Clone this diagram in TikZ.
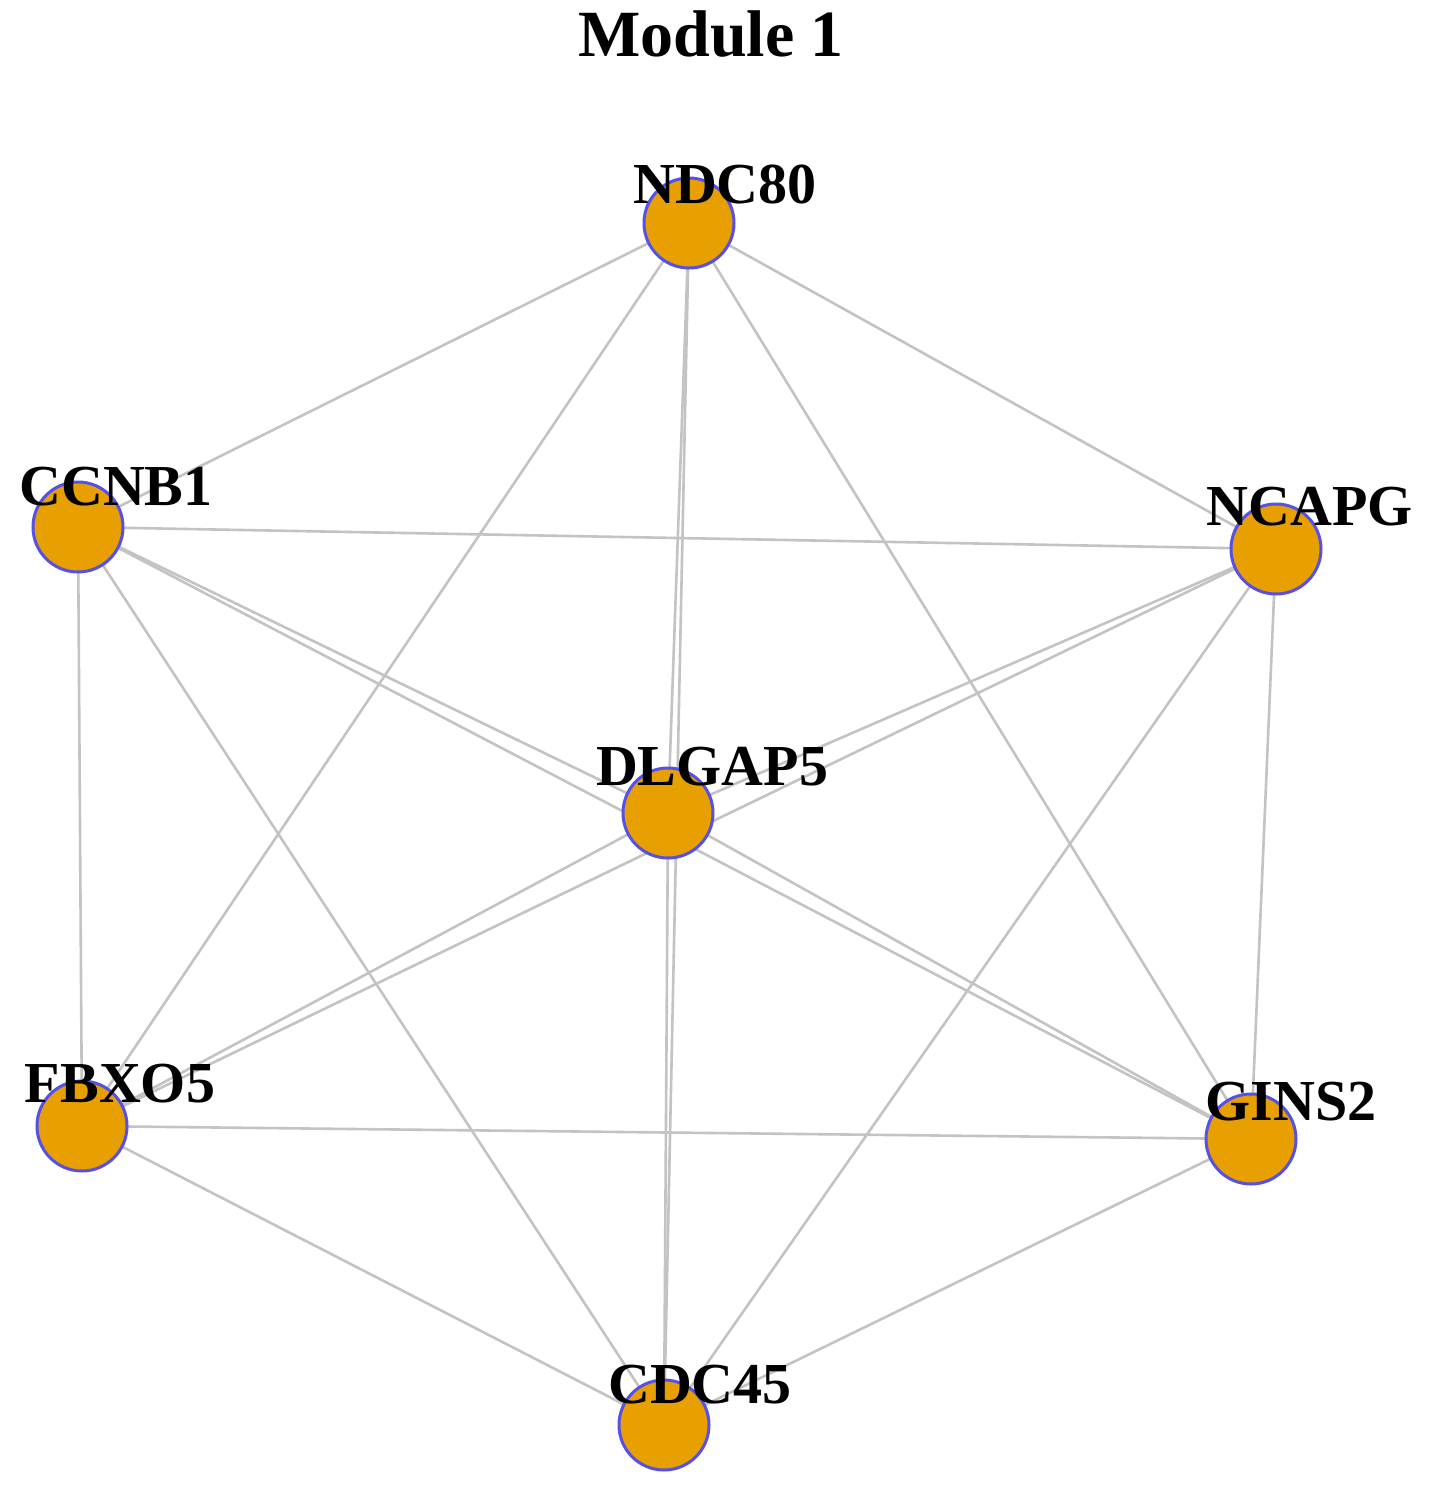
\documentclass[tikz,border=0pt]{standalone}
\usepackage{fontspec}
\setmainfont{Liberation Serif}
\definecolor{nodefill}{RGB}{232,160,0}
\definecolor{nodeborder}{RGB}{85,80,230}
\definecolor{edgecol}{RGB}{195,195,195}
\begin{document}
\begin{tikzpicture}[x=1pt,y=-1pt,
  gene/.style={circle,fill=nodefill,draw=nodeborder,line width=3pt,minimum size=90pt,inner sep=0pt},
  glabel/.style={font=\fontsize{58}{58}\selectfont\bfseries,inner sep=0pt,anchor=base},
  edge/.style={draw=edgecol,line width=2.6pt}]
\useasboundingbox (0,0) rectangle (1441,1488);
\fill[white] (0,0) rectangle (1441,1488);
% node positions
\coordinate (pNDC) at (689,223);
\coordinate (pCCN) at (78,527);
\coordinate (pNCA) at (1276,549);
\coordinate (pDLG) at (668,813);
\coordinate (pFBX) at (82,1126);
\coordinate (pGIN) at (1251,1139);
\coordinate (pCDC) at (664,1425);
% edges (complete graph)
\foreach \a/\b in {NDC/CCN,NDC/NCA,NDC/DLG,NDC/FBX,NDC/GIN,NDC/CDC,
                   CCN/NCA,CCN/DLG,CCN/FBX,CCN/GIN,CCN/CDC,
                   NCA/DLG,NCA/FBX,NCA/GIN,NCA/CDC,
                   DLG/FBX,DLG/GIN,DLG/CDC,
                   FBX/GIN,FBX/CDC,GIN/CDC}
  \draw[edge] (p\a) -- (p\b);
% nodes
\node[gene] (NDC) at (pNDC) {};
\node[gene] (CCN) at (pCCN) {};
\node[gene] (NCA) at (pNCA) {};
\node[gene] (DLG) at (pDLG) {};
\node[gene] (FBX) at (pFBX) {};
\node[gene] (GIN) at (pGIN) {};
\node[gene] (CDC) at (pCDC) {};
% labels
\node[glabel] (lNDC) at (725,203) {NDC80};
\node[glabel] (lCCN) at (116,505) {CCNB1};
\node[glabel] (lNCA) at (1310,525) {NCAPG};
\node[glabel] (lDLG) at (712,785) {DLGAP5};
\node[glabel] (lFBX) at (120,1102) {FBXO5};
\node[glabel] (lGIN) at (1291,1120) {GINS2};
\node[glabel] (lCDC) at (700,1403) {CDC45};
% title
\node[font=\fontsize{66}{66}\selectfont\bfseries,inner sep=0pt,anchor=base] (title) at (711,57) {Module 1};
\end{tikzpicture}
\end{document}
